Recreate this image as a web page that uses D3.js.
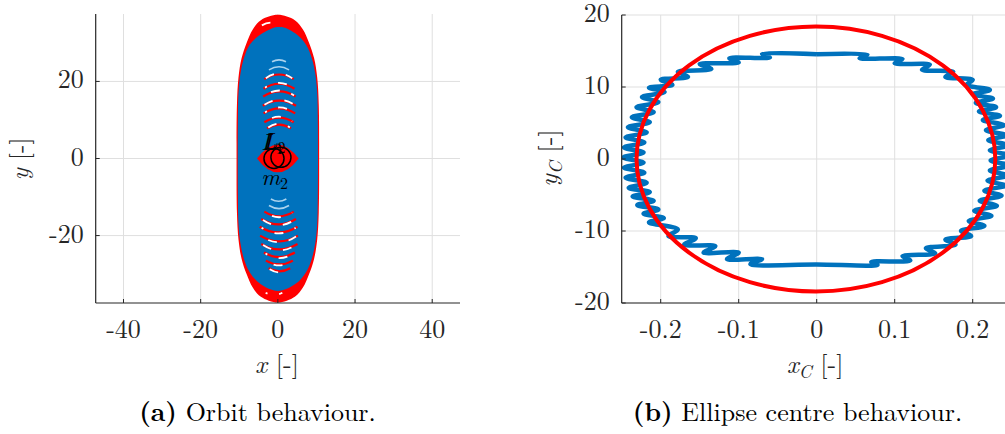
<!DOCTYPE html>
<html>
<head>
<meta charset="utf-8">
<script src="https://cdn.jsdelivr.net/npm/d3@7"></script>
<style>
  html, body { margin: 0; padding: 0; background: #fff; }
  svg { display: block; }
</style>
</head>
<body>
<div id="chart"></div>
<script>
// ---- data ----
const orbitXTicks = [-40, -20, 0, 20, 40]
const orbitYTicks = [-20, 0, 20]
const orbitXDomain = [-47.2, 47.2]
const orbitYDomain = [-37.5, 37.5]

// outer envelope of all orbits (red) and the dense blue band, traced clockwise
const orbitRedEnvelope = [
  [0, 37.3], [4.4, 35.9], [6.5, 33.5], [8.1, 30.0], [9.4, 26.0], [10.2, 21.0], [10.6, 14.0],
  [10.7, 0], [10.6, -14.0], [10.2, -21.0], [9.4, -26.0], [8.1, -30.0], [6.5, -33.5], [4.4, -35.9],
  [0, -37.4], [-4.4, -35.9], [-6.5, -33.5], [-8.1, -30.0], [-9.4, -26.0], [-10.2, -21.0], [-10.6, -14.0],
  [-10.7, 0], [-10.6, 14.0], [-10.2, 21.0], [-9.4, 26.0], [-8.1, 30.0], [-6.5, 33.5], [-4.4, 35.9]
]
const orbitBlueEnvelope = [
  [0.5, 34.2], [4.5, 32.5], [7.3, 29.5], [8.8, 26.0], [9.7, 22.0], [10.2, 17.0], [10.35, 10.0],
  [10.4, 0], [10.35, -10.0], [10.2, -17.0], [9.7, -22.0], [8.8, -26.0], [7.3, -29.5], [4.5, -32.6],
  [0, -34.4], [-4.5, -32.6], [-7.3, -29.5], [-8.8, -26.0], [-9.7, -22.0], [-10.2, -17.0], [-10.35, -10.0],
  [-10.4, 0], [-10.35, 10.0], [-10.2, 17.0], [-9.7, 22.0], [-8.8, 26.0], [-7.3, 29.5], [-4.0, 32.5]
]

// gaps in the blue band: peak y, half width, sag, centre x, tone (0 faint, 1 mixed)
const orbitUpperArcs = [
  [35.0, 2.6, 0.7, -1.8, 1],
  [25.6, 1.8, 0.5, 0.3, 0],
  [23.8, 2.6, 0.8, 0.3, 0],
  [21.8, 3.8, 1.2, 0.3, 1],
  [19.4, 4.0, 1.3, 0.3, 1],
  [17.4, 4.2, 1.3, 0.4, 1],
  [15.0, 4.3, 1.3, 0.4, 1],
  [13.0, 4.1, 1.3, 0.4, 1],
  [10.6, 3.8, 1.2, 0.3, 1],
  [8.8, 3.1, 1.0, 0.3, 1]
]
const orbitLowerArcs = [
  [-11.1, 2.0, 0.6, 0.2, 0],
  [-13.0, 2.6, 0.8, 0.3, 0],
  [-15.0, 3.8, 1.2, 0.3, 1],
  [-17.1, 4.5, 1.4, 0.2, 1],
  [-19.2, 4.9, 1.5, 0.2, 1],
  [-21.5, 4.9, 1.5, 0.3, 1],
  [-23.6, 4.7, 1.4, 0.4, 1],
  [-25.6, 4.0, 1.2, 0.4, 1],
  [-27.5, 3.5, 1.0, 0.4, 1],
  [-29.3, 2.8, 0.8, 0.4, 1],
  [-35.2, 2.4, 0.6, -1.0, 1]
]
// central lens of the secondary body: half width, half height
const lensSize = [5.4, 3.6]
// primary circles: cx, cy, r
const bodyCircles = [[-1.0, 0.0, 2.6], [0.8, 0.3, 2.6]]
// label anchors in data units: text, subscript, x, y
const bodyLabels = [
  ['L', '1', -4.3, 2.2],
  ['L', '2', -3.8, 2.4],
  ['m', '2', -4.3, -6.9]
]

const centreXTicks = [-0.2, -0.1, 0, 0.1, 0.2]
const centreYTicks = [-20, -10, 0, 10, 20]
const centreXDomain = [-0.25, 0.25]
const centreYDomain = [-20, 20]
// fitted ellipse of the centre motion: cx, cy, rx, ry
const centreEllipse = [-0.001, 0, 0.230, 18.4]
// simulated ellipse centre path (xC, yC)
const centrePath = [
  [0.0, 14.55], [0.065, 14.5], [0.055, 14.0], [0.110, 13.9], [0.100, 13.3], [0.145, 13.1],
  [0.135, 12.4], [0.175, 12.1], [0.165, 11.4], [0.200, 11.0], [0.192, 10.3],
  [0.222, 9.6], [0.200, 9.0], [0.226, 8.4], [0.204, 7.8], [0.230, 7.2], [0.208, 6.6],
  [0.235, 6.0], [0.213, 5.4], [0.240, 4.7], [0.217, 4.0], [0.243, 3.3], [0.220, 2.6],
  [0.246, 1.9], [0.222, 1.2], [0.247, 0.5], [0.223, -0.2], [0.247, -0.9], [0.222, -1.6],
  [0.245, -2.3], [0.219, -3.0], [0.242, -3.7], [0.215, -4.4], [0.237, -5.1], [0.209, -5.8],
  [0.231, -6.5], [0.202, -7.2], [0.224, -7.9], [0.195, -8.6], [0.215, -9.3], [0.185, -10.0],
  [0.198, -10.7], [0.165, -11.2], [0.178, -11.9], [0.140, -12.4], [0.152, -13.1],
  [0.110, -13.5], [0.120, -14.1], [0.070, -14.3], [0.078, -14.7], [0.0, -14.65],
  [-0.085, -14.6], [-0.070, -13.9], [-0.115, -13.9], [-0.100, -13.0], [-0.145, -13.0],
  [-0.130, -12.1], [-0.170, -11.9], [-0.155, -11.0], [-0.190, -10.7], [-0.178, -9.8],
  [-0.215, -8.8], [-0.196, -8.2], [-0.222, -7.6], [-0.203, -7.0], [-0.230, -6.4], [-0.209, -5.8],
  [-0.236, -5.2], [-0.214, -4.6], [-0.241, -4.0], [-0.218, -3.3], [-0.245, -2.6], [-0.221, -1.9],
  [-0.247, -1.2], [-0.222, -0.5], [-0.248, 0.2], [-0.222, 0.9], [-0.247, 1.6], [-0.221, 2.3],
  [-0.245, 3.0], [-0.218, 3.7], [-0.242, 4.4], [-0.214, 5.1], [-0.237, 5.8], [-0.209, 6.5],
  [-0.231, 7.2], [-0.203, 7.9], [-0.224, 8.6], [-0.195, 9.3],
  [-0.215, 9.9], [-0.185, 10.3], [-0.200, 11.0], [-0.165, 11.4], [-0.178, 12.1], [-0.135, 12.5],
  [-0.150, 13.2], [-0.100, 13.4], [-0.112, 14.0], [-0.060, 14.1], [-0.070, 14.6], [0.0, 14.55]
]

// ---- drawing ----
const W = 1005
const H = 434
const blue = '#0072bd'
const red = '#ff0000'
const axisColor = '#262626'
const gridColor = '#dfdfdf'
const font = '"Latin Modern Roman", "Liberation Serif", serif'
const fs = 26

const svg = d3.select('#chart')
  .append('svg')
  .attr('width', W)
  .attr('height', H)
  .attr('font-family', font)

svg.append('rect').attr('width', W).attr('height', H).attr('fill', '#fff')
const defs = svg.append('defs')

const drawFrame = (id, x, y, xTicks, yTicks) => {
  const [x0, x1] = x.range()
  const [y0, y1] = y.range()
  defs.append('clipPath').attr('id', id)
    .append('rect')
    .attr('x', x0).attr('y', y1).attr('width', x1 - x0).attr('height', y0 - y1)

  const grid = svg.append('g')
  grid.selectAll('.gx').data(xTicks).join('line')
    .attr('class', 'gx')
    .attr('x1', (d) => x(d)).attr('x2', (d) => x(d))
    .attr('y1', y0).attr('y2', y1)
    .attr('stroke', gridColor).attr('stroke-width', 1)
  grid.selectAll('.gy').data(yTicks).join('line')
    .attr('class', 'gy')
    .attr('x1', x0).attr('x2', x1)
    .attr('y1', (d) => y(d)).attr('y2', (d) => y(d))
    .attr('stroke', gridColor).attr('stroke-width', 1)

  return svg.append('g').attr('clip-path', `url(#${id})`)
}

const drawAxes = (x, y, xTicks, yTicks, fmt) => {
  const [x0, x1] = x.range()
  const [y0, y1] = y.range()
  const g = svg.append('g')
  g.append('line').attr('x1', x0).attr('x2', x1).attr('y1', y0).attr('y2', y0)
    .attr('stroke', axisColor).attr('stroke-width', 1.2)
  g.append('line').attr('x1', x0).attr('x2', x0).attr('y1', y0).attr('y2', y1)
    .attr('stroke', axisColor).attr('stroke-width', 1.2)
  g.selectAll('.tx').data(xTicks).join('line')
    .attr('class', 'tx')
    .attr('x1', (d) => x(d)).attr('x2', (d) => x(d))
    .attr('y1', y0).attr('y2', y0 - 4)
    .attr('stroke', axisColor)
  g.selectAll('.ty').data(yTicks).join('line')
    .attr('class', 'ty')
    .attr('x1', x0).attr('x2', x0 + 4)
    .attr('y1', (d) => y(d)).attr('y2', (d) => y(d))
    .attr('stroke', axisColor)
  g.selectAll('.lx').data(xTicks).join('text')
    .attr('class', 'lx')
    .attr('x', (d) => x(d))
    .attr('y', y0 + 35)
    .attr('text-anchor', 'middle')
    .attr('font-size', fs)
    .attr('fill', axisColor)
    .text((d) => fmt(d))
  g.selectAll('.ly').data(yTicks).join('text')
    .attr('class', 'ly')
    .attr('x', x0 - 12)
    .attr('y', (d) => y(d) + 7)
    .attr('text-anchor', 'end')
    .attr('font-size', fs)
    .attr('fill', axisColor)
    .text((d) => fmt(d))
}

const fmtTick = (d) => String(d)

const addMathLabel = (px, py, sym, sub, rest, rotate, size) => {
  const t = svg.append('text')
    .attr('x', px).attr('y', py)
    .attr('text-anchor', 'middle')
    .attr('font-size', size)
    .attr('fill', axisColor)
  if (rotate) t.attr('transform', `rotate(-90 ${px} ${py})`)
  t.append('tspan').attr('font-style', 'italic').text(sym)
  if (sub) {
    t.append('tspan').attr('font-style', 'italic').attr('font-size', 18)
      .attr('dy', 5).text(sub)
    t.append('tspan').attr('dy', -5).text(rest)
  } else {
    t.append('tspan').text(rest)
  }
}

const span = (v, s) => Math.abs(s(v) - s(0))

// ---------- panel (a): orbit ----------
const xL = d3.scaleLinear().domain(orbitXDomain).range([95.7, 460])
const yL = d3.scaleLinear().domain(orbitYDomain).range([303, 14])
const plotL = drawFrame('clipL', xL, yL, orbitXTicks, orbitYTicks)

const envelope = d3.line().x((d) => xL(d[0])).y((d) => yL(d[1])).curve(d3.curveCatmullRomClosed)
plotL.append('path').attr('d', envelope(orbitRedEnvelope)).attr('fill', red)
plotL.append('path').attr('d', envelope(orbitBlueEnvelope)).attr('fill', blue)

const arcPath = (d, dir) => {
  const [py, w, sag, cx] = d
  const p = d3.path()
  p.moveTo(xL(cx - w), yL(py - dir * sag))
  p.quadraticCurveTo(xL(cx), yL(py + dir * sag), xL(cx + w), yL(py - dir * sag))
  return p.toString()
}

const drawArcs = (arcs, dir) => {
  arcs.forEach((d, i) => {
    if (d[4] === 0) {
      plotL.append('path').attr('d', arcPath(d, dir))
        .attr('fill', 'none').attr('stroke', '#a9d2ee').attr('stroke-width', 1.6)
      return
    }
    plotL.append('path').attr('d', arcPath(d, dir))
      .attr('fill', 'none').attr('stroke', red).attr('stroke-width', 2.2)
    plotL.append('path').attr('d', arcPath([d[0] + dir * 0.25, d[1] * 0.9, d[2], d[3]], dir))
      .attr('fill', 'none').attr('stroke', '#fff').attr('stroke-width', 1.8)
      .attr('stroke-dasharray', '9 12')
      .attr('stroke-dashoffset', (i * 7) % 21)
  })
}
drawArcs(orbitUpperArcs, 1)
drawArcs(orbitLowerArcs, -1)

const lens = d3.path()
lens.moveTo(xL(-lensSize[0]), yL(0))
lens.quadraticCurveTo(xL(0), yL(2 * lensSize[1]), xL(lensSize[0]), yL(0))
lens.quadraticCurveTo(xL(0), yL(-2 * lensSize[1]), xL(-lensSize[0]), yL(0))
lens.closePath()
plotL.append('path').attr('d', lens.toString()).attr('fill', red)

plotL.selectAll('.body').data(bodyCircles).join('ellipse')
  .attr('class', 'body')
  .attr('cx', (d) => xL(d[0])).attr('cy', (d) => yL(d[1]))
  .attr('rx', (d) => span(d[2], xL)).attr('ry', (d) => span(d[2], yL))
  .attr('fill', 'none').attr('stroke', '#000').attr('stroke-width', 1.5)

bodyLabels.forEach(([sym, sub, lx, ly]) => {
  const t = plotL.append('text')
    .attr('x', xL(lx)).attr('y', yL(ly))
    .attr('font-size', 23).attr('fill', '#000')
  t.append('tspan').attr('font-style', 'italic').text(sym)
  t.append('tspan').attr('font-size', 16).attr('dy', 4).text(sub)
})

drawAxes(xL, yL, orbitXTicks, orbitYTicks, fmtTick)
addMathLabel(277, 373, 'x', null, ' [-]', false, fs)
addMathLabel(28, 159, 'y', null, ' [-]', true, 25)

// ---------- panel (b): ellipse centre ----------
const xR = d3.scaleLinear().domain(centreXDomain).range([621.7, 1011.7])
const yR = d3.scaleLinear().domain(centreYDomain).range([303, 15])
const plotR = drawFrame('clipR', xR, yR, centreXTicks, centreYTicks)

const line = d3.line().x((d) => xR(d[0])).y((d) => yR(d[1])).curve(d3.curveCatmullRom.alpha(0.5))
plotR.append('path').datum(centrePath)
  .attr('d', line)
  .attr('fill', 'none')
  .attr('stroke', blue)
  .attr('stroke-width', 4.5)
  .attr('stroke-linejoin', 'round')

plotR.append('ellipse')
  .attr('cx', xR(centreEllipse[0])).attr('cy', yR(centreEllipse[1]))
  .attr('rx', span(centreEllipse[2], xR)).attr('ry', span(centreEllipse[3], yR))
  .attr('fill', 'none').attr('stroke', red).attr('stroke-width', 4)

drawAxes(xR, yR, centreXTicks, centreYTicks, fmtTick)
addMathLabel(815, 373, 'x', 'C', ' [-]', false, fs)
addMathLabel(557, 158, 'y', 'C', ' [-]', true, fs)

// ---------- captions ----------
const caption = (cx, tag, body) => {
  const t = svg.append('text')
    .attr('x', cx).attr('y', 421)
    .attr('text-anchor', 'middle')
    .attr('font-size', fs)
    .attr('fill', '#000')
  t.append('tspan').attr('font-weight', 'bold').text(tag)
  t.append('tspan').text(' ' + body)
}
caption(257.5, '(a)', 'Orbit behaviour.')
caption(797.5, '(b)', 'Ellipse centre behaviour.')
</script>
</body>
</html>
